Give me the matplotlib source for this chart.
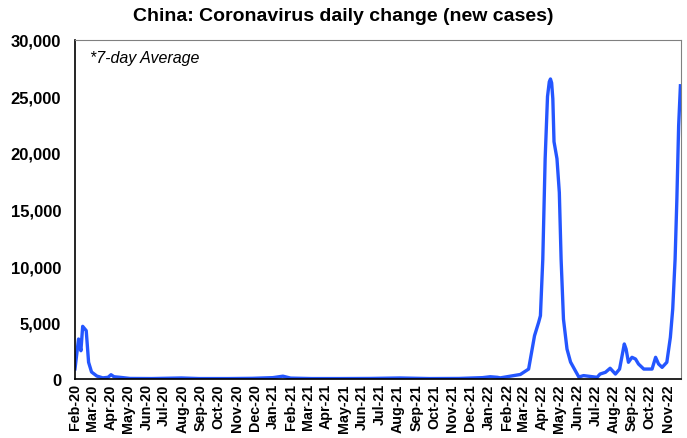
import numpy as np
import pandas as pd
import matplotlib
matplotlib.use('Agg')
import matplotlib.pyplot as plt
import matplotlib.dates as mdates
from matplotlib.ticker import FuncFormatter

plt.rcParams['font.family'] = ['Liberation Sans', 'DejaVu Sans']

# 7天平均新增病例（从图上读出的关键点）
day_offset = [0, 6, 10, 13, 19, 23, 28, 37, 47, 56, 61, 66, 76, 93, 130, 180, 210,
              260, 300, 335, 352, 365, 400, 450, 500, 550, 600, 650, 690, 703, 715,
              720, 754, 768, 774, 778, 785, 788, 792, 796, 800, 803, 805, 807, 809, 811, 816,
              820, 823, 827, 833, 839, 847, 853, 861, 884, 889, 898, 906, 915, 922,
              930, 933, 937, 943, 949, 954, 963, 977, 983, 988, 994, 1002, 1008,
              1012, 1016, 1019, 1022, 1025]
new_cases = [900, 3540, 2500, 4660, 4280, 1480, 620, 260, 100, 150, 380, 200, 150, 50, 40, 90, 40,
             40, 60, 120, 250, 80, 40, 40, 50, 90, 40, 50, 120, 200, 150,
             100, 400, 880, 2650, 3830, 5020, 5600, 10600, 19500, 25000, 26300, 26550, 26200, 24800, 21000, 19500,
             16500, 10600, 5300, 2650, 1500, 740, 180, 300, 150, 440, 590, 950, 440, 880,
             3100, 2650, 1480, 1920, 1770, 1330, 880, 880, 1920, 1330, 1030, 1480, 3690,
             6200, 10600, 15900, 22400, 25950]
start = pd.Timestamp('2020-02-01')
dates = start + pd.to_timedelta(day_offset, unit='D')

fig = plt.figure(figsize=(6.87, 4.39), dpi=100)
ax = fig.add_axes([75/687, 1-380/439, 606/687, 339/439])
ax.plot(dates, new_cases, color='#2456FF', lw=2.4, solid_joinstyle='round')

ax.set_xlim(start, pd.Timestamp('2022-11-23'))
ax.set_ylim(0, 30000)
ax.set_yticks(np.arange(0, 30001, 5000))
ax.yaxis.set_major_formatter(FuncFormatter(lambda v, p: f'{int(v):,}'))
ax.xaxis.set_major_locator(mdates.MonthLocator())
ax.xaxis.set_major_formatter(mdates.DateFormatter('%b-%y'))
ax.tick_params(axis='both', length=0)
ax.tick_params(axis='y', pad=10, labelsize=12)
ax.tick_params(axis='x', pad=3, labelsize=10.3, labelrotation=90)
for lab in ax.get_xticklabels() + ax.get_yticklabels():
    lab.set_fontweight('bold')

for s in ['top', 'right']:
    ax.spines[s].set_color('#808080')
    ax.spines[s].set_linewidth(0.8)
for s in ['left', 'bottom']:
    ax.spines[s].set_color('black')
    ax.spines[s].set_linewidth(1.2)

ax.text(0.025, 0.97, '*7-day Average', transform=ax.transAxes, style='italic',
        fontsize=11.5, va='top', ha='left')
fig.suptitle('China: Coronavirus daily change (new cases)', fontsize=14,
             fontweight='bold', x=0.5, y=0.982)

fig.savefig('out.png', dpi=100)
